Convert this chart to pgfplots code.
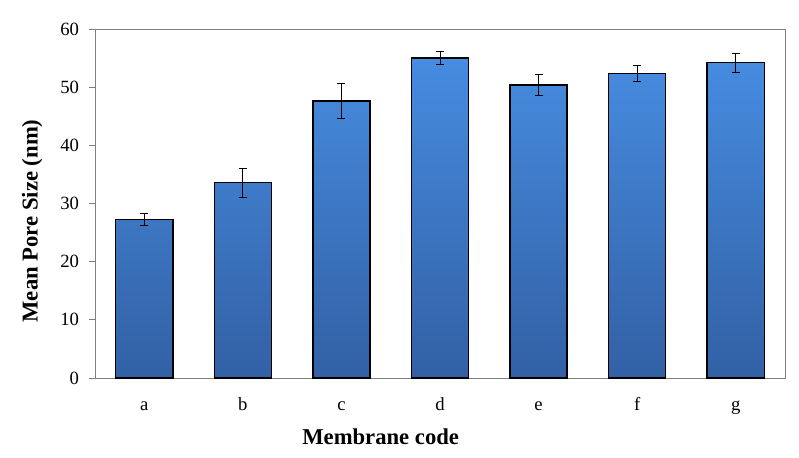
\documentclass[border=0pt]{standalone}
\usepackage{fontspec}
\setmainfont{Liberation Serif}
\usepackage{pgfplots}
\pgfplotsset{compat=1.18}
\definecolor{bartop}{RGB}{70,140,224}
\definecolor{barbot}{RGB}{50,96,164}
\definecolor{axgray}{RGB}{128,128,128}
\begin{document}
\begin{tikzpicture}
\path[use as bounding box] (-71.25pt,-59.25pt) rectangle (528pt,283.5pt);
\begin{axis}[
  scale only axis,
  width=517.5pt, height=261.75pt,
  at={(0,0)}, anchor=south west,
  xmin=-0.5, xmax=6.5, ymin=0, ymax=60,
  xtick={0,1,2,3,4,5,6},
  xticklabels={a,b,c,d,e,f,g},
  ytick={0,10,20,30,40,50,60},
  x tick style={draw=none},
  y tick style={axgray, line width=0.6pt},
  tick align=outside,
  major tick length=4.5pt,
  ytick pos=left,
  axis line style={axgray, line width=0.6pt},
  /pgf/number format/assume math mode=true,
  ticklabel style={font=\fontsize{14}{16}\selectfont},
  xticklabel style={anchor=base, yshift=-20pt},
  yticklabel style={xshift=-4pt},
  xlabel={\textbf{Membrane code}},
  ylabel={\textbf{Mean Pore Size (nm)}},
  label style={font=\fontsize{17}{19}\selectfont},
  xlabel style={at={(axis description cs:0.414,0)}, anchor=center, yshift=-44pt},
  ylabel style={at={(axis description cs:-0.091,0.45)}, anchor=center},
  ybar, bar width=0.58,
]
\addplot[
  draw=black, line width=1pt,
  top color=bartop, bottom color=barbot, shading angle=0,
  error bars/.cd, y dir=both, y explicit,
  error bar style={black, line width=0.7pt},
  error mark options={rotate=90, mark size=3pt, black, line width=0.7pt},
] coordinates {
  (0,27.3) +- (0,1.0)
  (1,33.6) +- (0,2.5)
  (2,47.6) +- (0,3.0)
  (3,55.0) +- (0,1.1)
  (4,50.4) +- (0,1.8)
  (5,52.3) +- (0,1.4)
  (6,54.2) +- (0,1.6)
};
\end{axis}
\end{tikzpicture}
\end{document}
